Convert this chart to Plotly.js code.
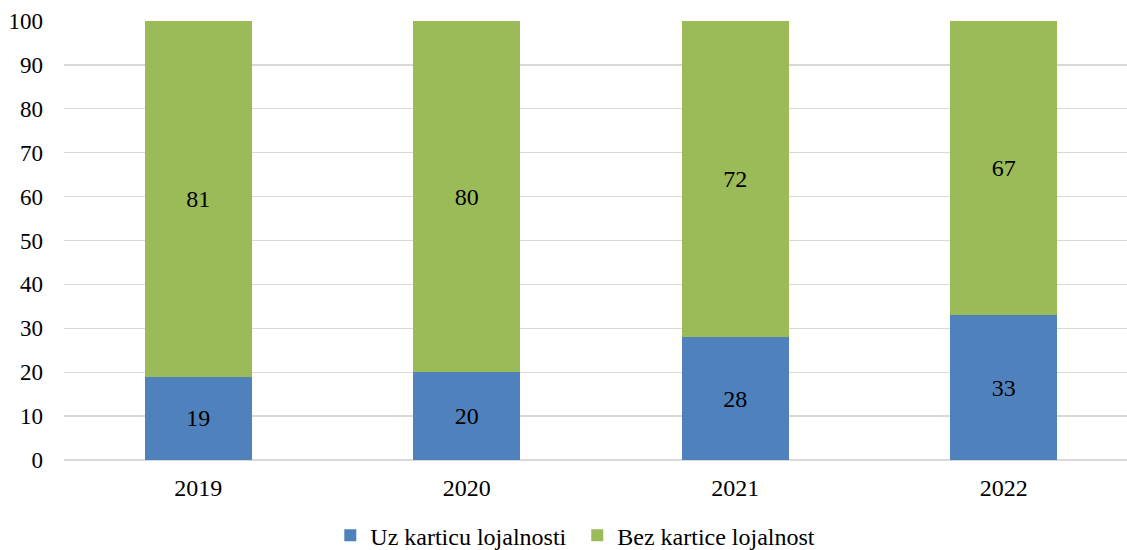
<!DOCTYPE html>
<html>
<head>
<meta charset="utf-8">
<script src="https://cdn.plot.ly/plotly-3.0.1.min.js"></script>
<style>html,body{margin:0;padding:0;background:#fff;}#chart{width:1127px;height:550px;}</style>
</head>
<body>
<div id="chart"></div>
<script>
const years = ['2019', '2020', '2021', '2022'];
const withCard = [19, 20, 28, 33];
const withoutCard = [81, 80, 72, 67];
const seriesNames = ['Uz karticu lojalnosti', 'Bez kartice lojalnost'];
const yTicks = [0, 10, 20, 30, 40, 50, 60, 70, 80, 90, 100];

const fam = 'Liberation Serif, serif';
const font = {family: fam, size: 24, color: '#000'};
const tickFontY = {family: fam, size: 23, color: '#000'};

const traces = [
  {type: 'bar', x: years, y: withCard, name: seriesNames[0] + '\u00a0', marker: {color: '#4f81bd'},
   width: 0.4, text: withCard.map(String), textposition: 'inside', insidetextanchor: 'middle',
   textfont: font, hoverinfo: 'none'},
  {type: 'bar', x: years, y: withoutCard, name: seriesNames[1], marker: {color: '#9bbb59'},
   width: 0.4, text: withoutCard.map(String), textposition: 'inside', insidetextanchor: 'middle',
   textfont: font, hoverinfo: 'none'}
];

const layout = {
  width: 1127, height: 550,
  barmode: 'stack',
  margin: {l: 64, r: 0, t: 21, b: 90, autoexpand: false},
  paper_bgcolor: '#fff', plot_bgcolor: '#fff',
  font: font,
  showlegend: true,
  legend: {orientation: 'h', x: 0.481, xanchor: 'center', y: -0.121, yanchor: 'top',
           font: font, traceorder: 'normal', itemwidth: 30},
  xaxis: {type: 'category', range: [-0.5, 3.459], showgrid: false, zeroline: false,
          showline: false, ticks: '', tickfont: font, ticklabelstandoff: 11},
  yaxis: {range: [0, 100], tickvals: yTicks, showgrid: true, gridcolor: '#d9d9d9', gridwidth: 1.3,
          zeroline: true, zerolinecolor: '#d9d9d9', zerolinewidth: 1.3, showline: false, ticks: '',
          tickfont: tickFontY, ticklabelstandoff: 20}
};

Plotly.newPlot('chart', traces, layout, {displayModeBar: false, staticPlot: true});
</script>
</body>
</html>
